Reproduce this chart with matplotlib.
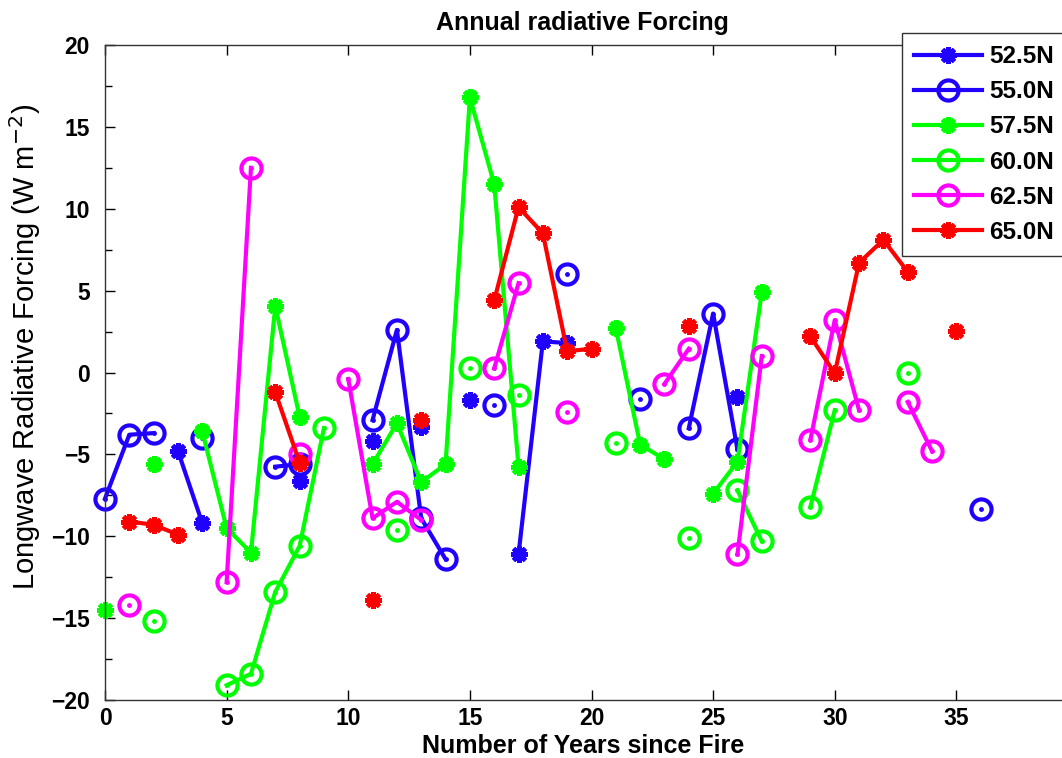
import numpy as np
import matplotlib
matplotlib.use("Agg")
import matplotlib.pyplot as plt
from matplotlib.ticker import MultipleLocator

nan = np.nan
years = np.arange(0, 37)

def series(d):
    arr = np.full(len(years), nan)
    for k, v in d.items():
        arr[k] = v
    return arr

lat_525 = series({3: -4.8, 4: -9.2, 8: -6.6, 11: -4.2, 13: -3.3, 15: -1.7,
                  17: -11.1, 18: 1.9, 19: 1.8, 26: -1.5})
lat_550 = series({0: -7.7, 1: -3.8, 2: -3.7, 4: -4.0, 7: -5.75, 8: -5.6,
                  11: -2.9, 12: 2.6, 13: -8.9, 14: -11.4, 16: -2.0, 19: 6.0,
                  22: -1.6, 24: -3.4, 25: 3.6, 26: -4.7, 36: -8.35})
lat_575 = series({0: -14.5, 2: -5.6, 4: -3.6, 5: -9.5, 6: -11.0, 7: 4.05, 8: -2.7,
                  11: -5.6, 12: -3.1, 13: -6.7, 14: -5.6, 15: 16.8, 16: 11.5, 17: -5.75,
                  21: 2.7, 22: -4.4, 23: -5.3, 25: -7.4, 26: -5.45, 27: 4.9})
lat_600 = series({2: -15.2, 5: -19.1, 6: -18.4, 7: -13.4, 8: -10.6, 9: -3.4,
                  12: -9.6, 15: 0.25, 17: -1.4, 21: -4.3, 24: -10.1, 26: -7.2, 27: -10.3,
                  29: -8.2, 30: -2.3, 33: -0.05})
lat_625 = series({1: -14.2, 5: -12.8, 6: 12.5, 8: -5.0, 10: -0.4, 11: -8.9, 12: -7.9,
                  13: -9.0, 16: 0.25, 17: 5.45, 19: -2.4, 23: -0.7, 24: 1.45,
                  26: -11.1, 27: 1.0, 29: -4.1, 30: 3.2, 31: -2.3, 33: -1.8, 34: -4.8})
lat_650 = series({1: -9.1, 2: -9.3, 3: -9.9, 7: -1.2, 8: -5.5, 11: -13.9, 13: -2.9,
                  16: 4.4, 17: 10.1, 18: 8.5, 19: 1.3, 20: 1.45, 24: 2.85,
                  29: 2.2, 30: -0.05, 31: 6.7, 32: 8.1, 33: 6.15, 35: 2.55})

labels = ["52.5N", "55.0N", "57.5N", "60.0N", "62.5N", "65.0N"]
data = [lat_525, lat_550, lat_575, lat_600, lat_625, lat_650]
colors = ["#2000ff", "#2000ff", "#00ff00", "#00ff00", "#ff00ff", "#ff0000"]
markers = ["star", "circle", "star", "circle", "circle", "star"]
xticks = [0, 5, 10, 15, 20, 25, 30, 35]

plt.rcParams['font.family'] = ['Liberation Sans', 'DejaVu Sans']

fig = plt.figure(figsize=(10.62, 7.58), dpi=100)
ax = fig.add_axes([105/1062, 1-700/758, (1078-105)/1062, (700-45)/758])

star = (8, 2, 0)
for y, c, m, lab in zip(data, colors, markers, labels):
    if m == "star":
        ax.plot(years, y, color=c, lw=3, marker=star, ms=12, mew=3.4,
                label=lab, clip_on=False)
    else:
        ax.plot(years, y, color=c, lw=3, marker='o', ms=14.5, mew=3,
                mfc='none', label=lab, clip_on=False)
        ax.plot(years, y, ls='none', color=c, marker='o', ms=3.5, mew=0,
                clip_on=False)

ax.set_xlim(0, 40)
ax.set_ylim(-20, 20)
ax.set_xticks(xticks)
ax.yaxis.set_major_locator(MultipleLocator(5))
ax.yaxis.set_minor_locator(MultipleLocator(2.5))
ax.tick_params(which='both', direction='in', top=True, right=True,
               labelsize=16.5, length=7, width=1)
ax.tick_params(axis='y', pad=11)
ax.tick_params(axis='x', pad=5)
ax.tick_params(which='minor', length=5)
for lbl in ax.get_xticklabels() + ax.get_yticklabels():
    lbl.set_fontweight('bold')
for s in ax.spines.values():
    s.set_linewidth(1)
    s.set_color('#333333')

ax.set_title("Annual radiative Forcing", fontsize=18, fontweight='bold', pad=11,
             x=(582-105)/(1078-105))
ax.set_xlabel("Number of Years since Fire", fontsize=18, fontweight='bold', labelpad=3,
              x=(583-105)/(1078-105))
ax.set_ylabel(r"Longwave Radiative Forcing (W m$^{-2}$)", fontsize=21, labelpad=6,
              y=1-(347-45)/655)

leg = fig.legend(loc='upper left', bbox_to_anchor=(902/1062, 1-33/758),
                 fontsize=17.5, frameon=True, fancybox=False, edgecolor='#333333',
                 framealpha=1, handlelength=2.8, handletextpad=0.3,
                 labelspacing=0.5, borderpad=0.5, borderaxespad=0)
leg.get_frame().set_linewidth(1)
for t in leg.get_texts():
    t.set_fontweight('bold')

fig.savefig("out.png", dpi=100)
